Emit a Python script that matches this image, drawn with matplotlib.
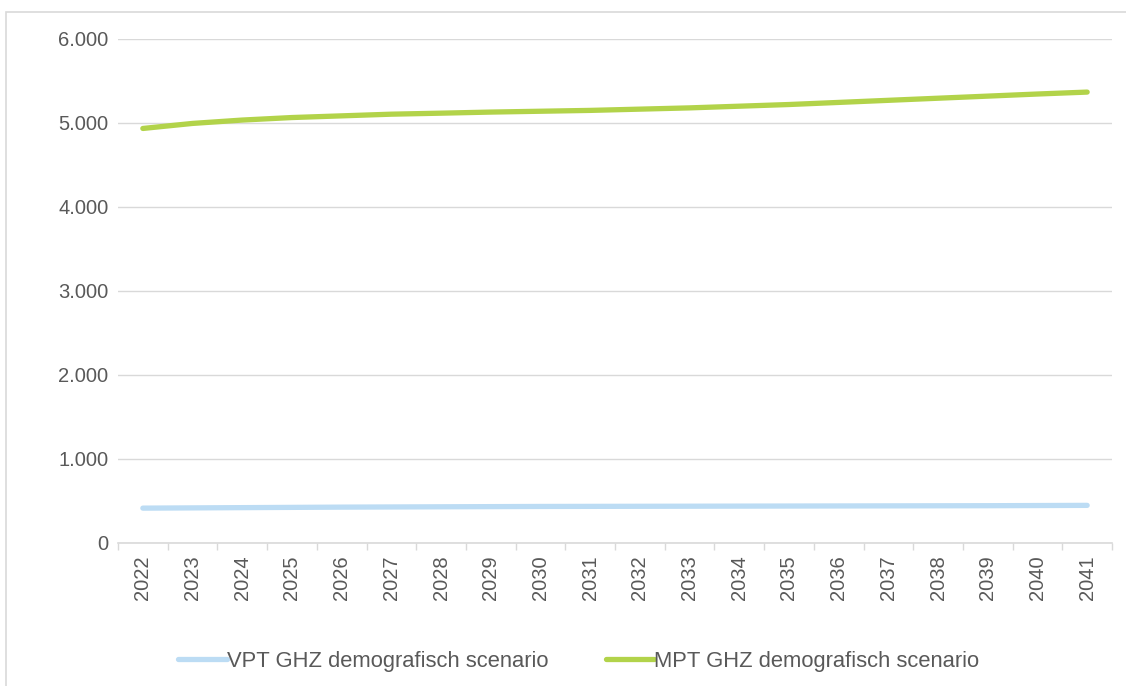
import matplotlib.pyplot as plt
from matplotlib.patches import Rectangle
from matplotlib.ticker import FuncFormatter, FixedLocator

plt.rcParams['font.family'] = ['Liberation Sans', 'DejaVu Sans']

jaren = [str(j) for j in range(2022, 2042)]
vpt_ghz = [415, 418, 421, 424, 427, 429, 431, 433, 435, 436,
           437, 438, 439, 440, 441, 442, 443, 444, 446, 448]
mpt_ghz = [4935, 4995, 5035, 5065, 5085, 5105, 5117, 5130, 5140, 5150,
           5165, 5180, 5200, 5220, 5245, 5270, 5295, 5320, 5345, 5368]

grijs = '#595959'
raster = '#d9d9d9'

fig = plt.figure(figsize=(11.26, 6.86), dpi=100)
ax = fig.add_axes([118 / 1126, 1 - 543 / 686, (1112 - 118) / 1126, (543 - 39) / 686])

# kader rond de hele grafiek
fig.patches.append(Rectangle((6 / 1126, -0.01), 1.1, (686 - 12) / 686 + 0.01,
                             transform=fig.transFigure, fill=False,
                             edgecolor=raster, linewidth=1.2))

x = range(len(jaren))
ax.plot(x, vpt_ghz, color='#bcdcf4', linewidth=3.8, solid_capstyle='round',
        label='VPT GHZ demografisch scenario')
ax.plot(x, mpt_ghz, color='#b2d34a', linewidth=3.8, solid_capstyle='round',
        label='MPT GHZ demografisch scenario')

ax.set_xlim(-0.5, len(jaren) - 0.5)
ax.set_ylim(0, 6000)
ax.set_yticks(range(0, 6001, 1000))
ax.yaxis.set_major_formatter(FuncFormatter(lambda v, p: f'{int(v):,}'.replace(',', '.')))
ax.grid(axis='y', color=raster, linewidth=1)
ax.set_axisbelow(True)

ax.set_xticks(list(x))
ax.set_xticklabels(jaren, rotation=90)
ax.xaxis.set_minor_locator(FixedLocator([i - 0.5 for i in range(len(jaren) + 1)]))
ax.tick_params(axis='x', which='major', length=0, pad=9, labelsize=14.5, labelcolor=grijs)
ax.tick_params(axis='x', which='minor', length=5, color=raster, width=1)
ax.tick_params(axis='y', length=0, pad=7, labelsize=14.5, labelcolor=grijs)

for s in ['top', 'right', 'left']:
    ax.spines[s].set_visible(False)
ax.spines['bottom'].set_color(raster)
ax.spines['bottom'].set_linewidth(1.2)

leg = fig.legend(loc='center', bbox_to_anchor=(579 / 1126, 1 - 661 / 686), ncol=2,
                 frameon=False, fontsize=15.8, handlelength=2.2, handletextpad=0.02,
                 columnspacing=2.6)
for t in leg.get_texts():
    t.set_color(grijs)

fig.savefig('out.png', dpi=100)
